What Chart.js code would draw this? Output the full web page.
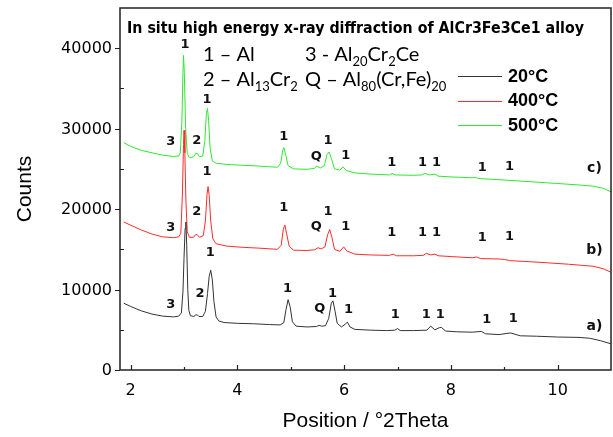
<!DOCTYPE html>
<html>
<head>
<meta charset="utf-8">
<script src="https://cdn.jsdelivr.net/npm/chart.js@4.4.1/dist/chart.umd.min.js"></script>
<style>
  html, body { margin: 0; padding: 0; background: #fff; }
  #wrap { width: 613px; height: 437px; }
</style>
</head>
<body>
<div id="wrap"><canvas id="xrdChart" width="613" height="437"></canvas></div>
<script>
// 20°C (a)
const theta20 = [1.87, 2.0, 2.2, 2.4, 2.6, 2.8, 2.9, 2.95, 2.98, 3.0, 3.02, 3.035, 3.05, 3.07, 3.09, 3.12, 3.18, 3.22, 3.25, 3.28, 3.35, 3.4, 3.44, 3.47, 3.5, 3.53, 3.56, 3.6, 3.65, 3.75, 4.0, 4.3, 4.6, 4.8, 4.87, 4.91, 4.95, 4.99, 5.03, 5.1, 5.3, 5.48, 5.53, 5.58, 5.65, 5.71, 5.76, 5.79, 5.83, 5.87, 5.95, 6.02, 6.06, 6.11, 6.2, 6.5, 6.8, 6.95, 7.0, 7.05, 7.3, 7.55, 7.62, 7.7, 7.78, 7.82, 7.9, 8.1, 8.4, 8.57, 8.65, 8.9, 9.05, 9.12, 9.3, 9.6, 10.0, 10.4, 10.6, 10.8, 11.0];
const counts20 = [8300, 7900, 7350, 6950, 6700, 6600, 6700, 7100, 9800, 14000, 17600, 18400, 15500, 10000, 7400, 6750, 6650, 6850, 6850, 6650, 6650, 7300, 9500, 11600, 12400, 11200, 8500, 6600, 6100, 5900, 5800, 5750, 5650, 5600, 5900, 7500, 8750, 7800, 6000, 5450, 5350, 5400, 5550, 5450, 5500, 6400, 8300, 8600, 7300, 5800, 5350, 5700, 5950, 5350, 5050, 4950, 4900, 4950, 5150, 4900, 4900, 4950, 5450, 5000, 5250, 5300, 4850, 4750, 4700, 4800, 4500, 4400, 4550, 4600, 4250, 4200, 4100, 4050, 3950, 3650, 3250];

// 400°C (b)
const theta400 = [1.87, 2.0, 2.2, 2.4, 2.6, 2.8, 2.9, 2.94, 2.97, 2.99, 3.0, 3.015, 3.035, 3.06, 3.1, 3.18, 3.22, 3.25, 3.29, 3.36, 3.4, 3.43, 3.45, 3.47, 3.5, 3.54, 3.6, 3.8, 4.1, 4.4, 4.75, 4.82, 4.86, 4.89, 4.92, 4.97, 5.05, 5.3, 5.45, 5.51, 5.57, 5.64, 5.69, 5.73, 5.77, 5.82, 5.92, 5.99, 6.05, 6.2, 6.5, 6.85, 6.92, 6.98, 7.3, 7.48, 7.54, 7.62, 7.7, 7.76, 8.0, 8.4, 8.48, 8.56, 8.9, 9.0, 9.1, 9.5, 9.8, 10.2, 10.66, 10.85, 11.0];
const counts400 = [18400, 18000, 17400, 16900, 16550, 16450, 16550, 17000, 22000, 28000, 29800, 27000, 21000, 17200, 16500, 16500, 16850, 16800, 16500, 16700, 18500, 21800, 22800, 21800, 18500, 16300, 15700, 15400, 15250, 15150, 15000, 15500, 17500, 18000, 17000, 15400, 14900, 14850, 14950, 15200, 15050, 15300, 16800, 17450, 16500, 15000, 14750, 15300, 14800, 14400, 14300, 14250, 14400, 14200, 14200, 14250, 14500, 14300, 14400, 14200, 14100, 13950, 14050, 13850, 13800, 13750, 13600, 13450, 13330, 13150, 12900, 12600, 12150];

// 500°C (c)
const theta500 = [1.87, 2.0, 2.2, 2.4, 2.6, 2.8, 2.9, 2.93, 2.96, 2.98, 2.99, 3.005, 3.03, 3.06, 3.1, 3.18, 3.22, 3.25, 3.29, 3.35, 3.39, 3.42, 3.44, 3.46, 3.49, 3.53, 3.6, 3.8, 4.1, 4.4, 4.75, 4.81, 4.85, 4.87, 4.9, 4.95, 5.05, 5.3, 5.44, 5.49, 5.55, 5.63, 5.68, 5.72, 5.76, 5.82, 5.92, 5.98, 6.04, 6.2, 6.5, 6.85, 6.9, 6.96, 7.3, 7.45, 7.51, 7.6, 7.7, 7.76, 8.0, 8.4, 8.45, 8.52, 9.04, 9.5, 9.98, 10.4, 10.66, 10.85, 11.0];
const counts500 = [28250, 27800, 27300, 27000, 26700, 26550, 26600, 27000, 31000, 37000, 39100, 37000, 30000, 26900, 26400, 26500, 26950, 26900, 26500, 26600, 28500, 32000, 32500, 31000, 27500, 26000, 25700, 25550, 25450, 25350, 25200, 25700, 27300, 27650, 26900, 25400, 25000, 24950, 25050, 25350, 25100, 25400, 26800, 27100, 26300, 25000, 24850, 25250, 24800, 24500, 24350, 24250, 24430, 24250, 24200, 24250, 24450, 24250, 24350, 24100, 24000, 23900, 23950, 23800, 23600, 23400, 23190, 23000, 22860, 22600, 22150];

const seriesNames = ['20°C', '400°C', '500°C'];
const seriesColors = ['#333333', '#ff2a2a', '#2ee82e'];

const xTicks = [2, 4, 6, 8, 10];
const xMinorTicks = [3, 5, 7, 9];
const yTicks = [0, 10000, 20000, 30000, 40000];
const yMinorTicks = [5000, 15000, 25000, 35000];

// peak markers: text, 2Theta, counts
const peakText = ['3', '2', '1', '1', 'Q', '1', '1', '1', '1', '1', '1', '1', 'a)',
                  '3', '2', '1', '1', 'Q', '1', '1', '1', '1', '1', '1', '1', 'b)',
                  '1', '3', '2', '1', '1', 'Q', '1', '1', '1', '1', '1', '1', '1', 'c)'];
const peakX = [2.75, 3.30, 3.49, 4.94, 5.545, 5.78, 6.08, 6.96, 7.54, 7.80, 8.67, 9.17, 10.69,
               2.75, 3.24, 3.43, 4.87, 5.48, 5.70, 6.03, 6.89, 7.47, 7.73, 8.59, 9.10, 10.69,
               3.02, 2.75, 3.24, 3.43, 4.87, 5.48, 5.70, 6.03, 6.89, 7.47, 7.73, 8.59, 9.10, 10.69];
const peakY = [8070, 9520, 14650, 10100, 7600, 9480, 7560, 6830, 6830, 6830, 6210, 6340, 5380,
               17730, 19660, 24630, 20210, 17800, 19660, 17800, 17060, 17060, 17060, 16480, 16560, 14910,
               40500, 28450, 28480, 33630, 28980, 26580, 28480, 26710, 25750, 25750, 25750, 25180, 25340, 25060];

const chartTitle = 'In situ high energy x-ray diffraction of AlCr3Fe3Ce1 alloy';

const toPoints = (xs, ys) => xs.map((x, i) => ({ x, y: ys[i] }));

// text with subscripts: [text, isSub]
const drawRich = (ctx, parts, x, y) => {
    let cx = x;
    parts.forEach(([txt, sub]) => {
        ctx.font = sub ? '13px Lato' : '20px Lato';
        ctx.fillText(txt, cx, sub ? y + 5 : y);
        cx += ctx.measureText(txt).width;
    });
};

const decorations = {
    id: 'decorations',
    afterDraw(chart) {
        const { ctx, chartArea: a, scales: { x, y } } = chart;
        ctx.save();

        // frame
        ctx.strokeStyle = '#222';
        ctx.lineWidth = 1.5;
        ctx.strokeRect(a.left, a.top, a.right - a.left, a.bottom - a.top);

        // ticks
        ctx.lineWidth = 1.2;
        ctx.beginPath();
        xTicks.forEach(v => {
            const px = Math.round(x.getPixelForValue(v)) + 0.5;
            ctx.moveTo(px, a.bottom); ctx.lineTo(px, a.bottom - 5);
        });
        xMinorTicks.forEach(v => {
            const px = Math.round(x.getPixelForValue(v)) + 0.5;
            ctx.moveTo(px, a.bottom); ctx.lineTo(px, a.bottom - 3);
        });
        yTicks.forEach(v => {
            const py = Math.round(y.getPixelForValue(v)) + 0.5;
            ctx.moveTo(a.left, py); ctx.lineTo(a.left - 5, py);
        });
        yMinorTicks.forEach(v => {
            const py = Math.round(y.getPixelForValue(v)) + 0.5;
            ctx.moveTo(a.left, py); ctx.lineTo(a.left + 4, py);
        });
        ctx.stroke();

        // tick labels
        ctx.fillStyle = '#000';
        ctx.font = '16px "DejaVu Sans"';
        ctx.textBaseline = 'middle';
        ctx.textAlign = 'center';
        xTicks.forEach(v => ctx.fillText(String(v), x.getPixelForValue(v), a.bottom + 21));
        ctx.textAlign = 'right';
        yTicks.forEach(v => ctx.fillText(String(v), a.left - 8, y.getPixelForValue(v) + 1));

        // peak labels
        ctx.fillStyle = '#111';
        ctx.textAlign = 'center';
        peakText.forEach((t, i) => {
            ctx.font = t.length > 1 ? 'bold 14px "DejaVu Sans"' : 'bold 13px "DejaVu Sans"';
            ctx.fillText(t, x.getPixelForValue(peakX[i]), y.getPixelForValue(peakY[i]));
        });

        // title
        ctx.fillStyle = '#000';
        ctx.textAlign = 'left';
        ctx.font = 'bold 15px "DejaVu Sans"';
        ctx.fillText(chartTitle, 127, 29, 457);

        // phase key
        ctx.textBaseline = 'alphabetic';
        drawRich(ctx, [['1 – Al', false]], 203, 61);
        drawRich(ctx, [['3 - Al', false], ['20', true], ['Cr', false], ['2', true], ['Ce', false]], 305, 61);
        drawRich(ctx, [['2 – Al', false], ['13', true], ['Cr', false], ['2', true]], 203, 86);
        drawRich(ctx, [['Q – Al', false], ['80', true], ['(Cr,Fe)', false], ['20', true]], 305, 86);

        // temperature legend
        ctx.textBaseline = 'middle';
        ctx.font = 'bold 18px "Liberation Sans"';
        seriesNames.forEach((name, i) => {
            const ly = 76 + i * 24.5;
            ctx.strokeStyle = seriesColors[i];
            ctx.lineWidth = 1;
            ctx.beginPath();
            ctx.moveTo(458, Math.round(ly) + 0.5);
            ctx.lineTo(502, Math.round(ly) + 0.5);
            ctx.stroke();
            ctx.fillStyle = '#000';
            ctx.fillText(name, 508, ly + 1);
        });

        ctx.restore();
    }
};

const makeSet = (label, xs, ys, color) => ({
    label,
    data: toPoints(xs, ys),
    borderColor: color,
    borderWidth: 1,
    pointRadius: 0,
    tension: 0,
    fill: false,
});

const ctx = document.getElementById('xrdChart').getContext('2d');

new Chart(ctx, {
    type: 'line',
    data: {
        datasets: [
            makeSet(seriesNames[0], theta20, counts20, seriesColors[0]),
            makeSet(seriesNames[1], theta400, counts400, seriesColors[1]),
            makeSet(seriesNames[2], theta500, counts500, seriesColors[2]),
        ],
    },
    options: {
        responsive: false,
        animation: false,
        layout: { padding: { top: 8, right: 2, left: 0, bottom: 0 } },
        plugins: {
            legend: { display: false },
            tooltip: { enabled: false },
        },
        scales: {
            x: {
                type: 'linear',
                min: 1.8,
                max: 11,
                afterBuildTicks: (scale) => { scale.ticks = xTicks.map(v => ({ value: v })); },
                afterFit: (scale) => { scale.height = 67; scale.paddingLeft = 0; scale.paddingRight = 0; },
                grid: { display: false, drawTicks: false },
                border: { display: false },
                ticks: { display: false },
                title: {
                    display: true,
                    text: 'Position / °2Theta',
                    color: '#000',
                    padding: { top: 0, bottom: 3 },
                    font: { family: 'Liberation Sans', size: 21 },
                },
            },
            y: {
                min: 0,
                max: 45000,
                afterBuildTicks: (scale) => { scale.ticks = yTicks.map(v => ({ value: v })); },
                afterFit: (scale) => { scale.width = 120; scale.paddingTop = 0; scale.paddingBottom = 0; },
                grid: { display: false, drawTicks: false },
                border: { display: false },
                ticks: { display: false },
                title: {
                    display: true,
                    text: 'Counts',
                    color: '#000',
                    padding: { top: 13, bottom: 0 },
                    font: { family: 'Liberation Sans', size: 21 },
                },
            },
        },
    },
    plugins: [decorations],
});
</script>
</body>
</html>
